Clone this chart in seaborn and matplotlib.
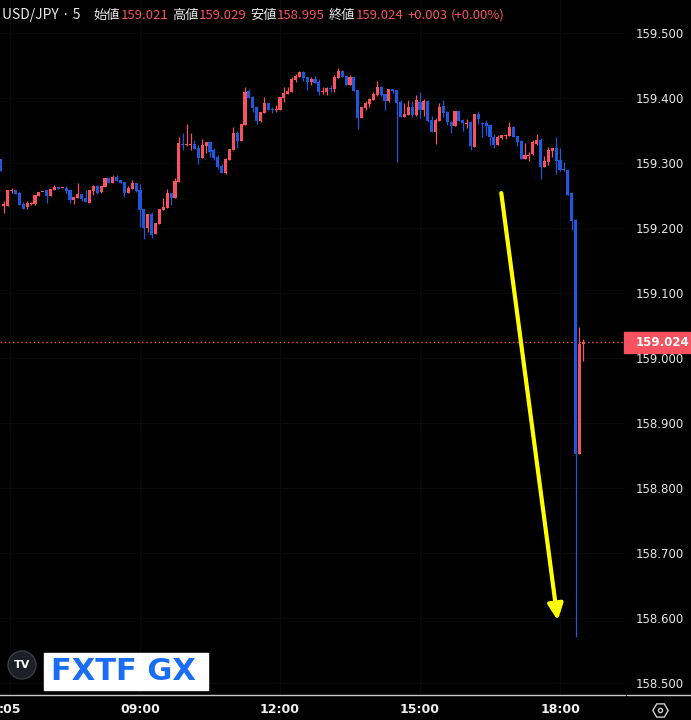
#!/usr/bin/env python3
"""
USD/JPY 5-minute candles with the sharp drop after 18:00.
"""

import matplotlib
matplotlib.use('Agg')
import numpy as np
import pandas as pd
import matplotlib.pyplot as plt
import seaborn as sns
from matplotlib.patches import Rectangle, Circle
from matplotlib.lines import Line2D

# 5-minute bars from 06:00 to 18:30
opens = [
    159.306, 159.234, 159.234, 159.257, 159.258, 159.254, 159.237, 159.232, 159.237, 159.237,
    159.249, 159.255, 159.258, 159.249, 159.258, 159.263, 159.261, 159.262, 159.258, 159.243,
    159.246, 159.252, 159.246, 159.238, 159.257, 159.265, 159.255, 159.263, 159.277, 159.269,
    159.278, 159.274, 159.271, 159.254, 159.260, 159.269, 159.258, 159.229, 159.200, 159.222,
    159.191, 159.206, 159.228, 159.231, 159.254, 159.246, 159.271, 159.329, 159.328, 159.328,
    159.329, 159.323, 159.308, 159.326, 159.332, 159.320, 159.309, 159.295, 159.285, 159.305,
    159.320, 159.346, 159.334, 159.358, 159.411, 159.402, 159.386, 159.365, 159.377, 159.392,
    159.383, 159.382, 159.382, 159.400, 159.406, 159.409, 159.428, 159.432, 159.440, 159.432,
    159.425, 159.429, 159.425, 159.409, 159.409, 159.415, 159.414, 159.431, 159.442, 159.434,
    159.420, 159.432, 159.412, 159.369, 159.385, 159.391, 159.397, 159.405, 159.417, 159.406,
    159.395, 159.414, 159.412, 159.394, 159.371, 159.374, 159.386, 159.374, 159.394, 159.382,
    159.395, 159.366, 159.348, 159.365, 159.388, 159.378, 159.363, 159.357, 159.380, 159.366,
    159.360, 159.363, 159.325, 159.375, 159.362, 159.362, 159.358, 159.340, 159.328, 159.338,
    159.342, 159.342, 159.355, 159.342, 159.334, 159.306, 159.311, 159.314, 159.329, 159.335,
    159.294, 159.302, 159.318, 159.323, 159.305, 159.291, 159.289, 159.254, 159.212, 158.852,
    159.021]
highs = [
    159.306, 159.242, 159.258, 159.262, 159.258, 159.255, 159.240, 159.242, 159.240, 159.251,
    159.255, 159.256, 159.258, 159.260, 159.266, 159.263, 159.262, 159.265, 159.258, 159.248,
    159.269, 159.252, 159.258, 159.258, 159.266, 159.266, 159.265, 159.277, 159.278, 159.282,
    159.282, 159.274, 159.271, 159.265, 159.274, 159.269, 159.268, 159.229, 159.222, 159.225,
    159.208, 159.229, 159.246, 159.260, 159.254, 159.277, 159.340, 159.346, 159.360, 159.346,
    159.335, 159.328, 159.337, 159.332, 159.332, 159.323, 159.312, 159.298, 159.308, 159.322,
    159.355, 159.349, 159.360, 159.417, 159.414, 159.403, 159.388, 159.378, 159.402, 159.392,
    159.386, 159.389, 159.402, 159.417, 159.417, 159.432, 159.437, 159.442, 159.442, 159.432,
    159.432, 159.434, 159.429, 159.417, 159.417, 159.420, 159.435, 159.446, 159.443, 159.434,
    159.435, 159.432, 159.412, 159.386, 159.395, 159.400, 159.409, 159.426, 159.418, 159.406,
    159.414, 159.414, 159.412, 159.397, 159.392, 159.397, 159.395, 159.405, 159.409, 159.398,
    159.397, 159.372, 159.369, 159.392, 159.397, 159.380, 159.365, 159.380, 159.380, 159.368,
    159.368, 159.365, 159.375, 159.380, 159.363, 159.366, 159.360, 159.345, 159.343, 159.343,
    159.345, 159.363, 159.357, 159.342, 159.335, 159.331, 159.317, 159.335, 159.345, 159.338,
    159.311, 159.325, 159.323, 159.340, 159.323, 159.302, 159.291, 159.255, 159.214, 159.048,
    159.029]
lows = [
    159.288, 159.223, 159.234, 159.254, 159.252, 159.235, 159.229, 159.229, 159.235, 159.235,
    159.249, 159.255, 159.238, 159.249, 159.258, 159.260, 159.261, 159.254, 159.238, 159.237,
    159.246, 159.242, 159.240, 159.238, 159.251, 159.252, 159.254, 159.263, 159.269, 159.269,
    159.272, 159.269, 159.248, 159.254, 159.260, 159.255, 159.202, 159.183, 159.194, 159.185,
    159.191, 159.206, 159.228, 159.231, 159.235, 159.246, 159.271, 159.320, 159.326, 159.320,
    159.322, 159.298, 159.308, 159.315, 159.309, 159.305, 159.291, 159.285, 159.283, 159.305,
    159.320, 159.323, 159.334, 159.358, 159.400, 159.378, 159.360, 159.363, 159.377, 159.382,
    159.377, 159.378, 159.382, 159.394, 159.406, 159.409, 159.425, 159.432, 159.426, 159.412,
    159.420, 159.423, 159.405, 159.406, 159.405, 159.409, 159.409, 159.431, 159.432, 159.420,
    159.420, 159.411, 159.352, 159.369, 159.382, 159.386, 159.397, 159.403, 159.403, 159.382,
    159.394, 159.408, 159.302, 159.371, 159.371, 159.374, 159.371, 159.372, 159.369, 159.372,
    159.363, 159.348, 159.329, 159.365, 159.371, 159.358, 159.346, 159.357, 159.365, 159.349,
    159.354, 159.320, 159.325, 159.360, 159.340, 159.343, 159.328, 159.323, 159.328, 159.337,
    159.337, 159.342, 159.340, 159.326, 159.306, 159.306, 159.303, 159.312, 159.328, 159.275,
    159.294, 159.297, 159.309, 159.283, 159.288, 159.288, 159.251, 159.197, 158.571, 158.852,
    158.995]
closes = [
    159.288, 159.237, 159.258, 159.258, 159.252, 159.235, 159.229, 159.238, 159.238, 159.251,
    159.255, 159.256, 159.249, 159.260, 159.263, 159.260, 159.262, 159.257, 159.243, 159.248,
    159.252, 159.245, 159.240, 159.258, 159.265, 159.254, 159.265, 159.277, 159.269, 159.278,
    159.272, 159.269, 159.254, 159.262, 159.269, 159.257, 159.228, 159.200, 159.222, 159.189,
    159.208, 159.229, 159.232, 159.254, 159.246, 159.272, 159.331, 159.328, 159.329, 159.329,
    159.322, 159.308, 159.328, 159.332, 159.317, 159.308, 159.294, 159.285, 159.306, 159.322,
    159.346, 159.334, 159.360, 159.409, 159.400, 159.385, 159.365, 159.378, 159.392, 159.382,
    159.382, 159.383, 159.402, 159.408, 159.411, 159.429, 159.434, 159.440, 159.431, 159.425,
    159.429, 159.423, 159.409, 159.411, 159.415, 159.414, 159.432, 159.442, 159.432, 159.420,
    159.432, 159.411, 159.369, 159.386, 159.392, 159.398, 159.406, 159.417, 159.405, 159.395,
    159.414, 159.411, 159.392, 159.371, 159.375, 159.386, 159.374, 159.397, 159.382, 159.395,
    159.365, 159.348, 159.366, 159.386, 159.377, 159.363, 159.357, 159.380, 159.365, 159.362,
    159.362, 159.326, 159.375, 159.368, 159.360, 159.357, 159.340, 159.328, 159.340, 159.343,
    159.343, 159.355, 159.340, 159.332, 159.306, 159.312, 159.312, 159.332, 159.335, 159.294,
    159.303, 159.320, 159.323, 159.303, 159.289, 159.289, 159.251, 159.211, 158.852, 159.021,
    159.024]

time_ticks = [2.6, 36, 72, 108, 144]
time_labels = [':05', '09:00', '12:00', '15:00', '18:00']
price_ticks = [159.5, 159.4, 159.3, 159.2, 159.1, 159.0, 158.9, 158.8, 158.7, 158.6, 158.5]

header = [
    ('USD/JPY · 5', 'w'), ('始値', 'w'), ('159.021', 'r'), ('高値', 'w'), ('159.029', 'r'),
    ('安値', 'w'), ('158.995', 'r'), ('終値', 'w'), ('159.024', 'r'), ('+0.003', 'r'),
    ('(+0.00%)', 'r'),
]
header_x = [2, 93, 121, 172, 199, 250, 277, 329, 356, 408, 451]

UP = '#f7525f'
DOWN = '#2157d9'
W, H = 691, 720

df = pd.DataFrame({'open': opens, 'high': highs, 'low': lows, 'close': closes})
df['idx'] = np.arange(len(df))
df['color'] = np.where(df['close'] >= df['open'], UP, DOWN)
df['bottom'] = df[['open', 'close']].min(axis=1)
df['body'] = (df['close'] - df['open']).abs().clip(lower=0.0014)

sns.set_style('dark', {'axes.facecolor': 'black', 'figure.facecolor': 'black',
                       'grid.color': '#0a0a0a'})
plt.rcParams['font.family'] = ['DejaVu Sans']

fig = plt.figure(figsize=(W / 100, H / 100), dpi=100)
ax = fig.add_axes([0, 25 / H, 625 / W, 695 / H])

ax.grid(True, color='#0a0a0a', linewidth=1, zorder=0)
ax.vlines(df['idx'], df['low'], df['high'], colors=df['color'], linewidth=0.9, zorder=2)
ax.bar(df['idx'], df['body'], bottom=df['bottom'], width=0.82, color=df['color'],
       linewidth=0, zorder=3)

# last price line
ax.axhline(closes[-1], color=UP, linewidth=1, linestyle=(0, (1, 2)), zorder=1)

# yellow arrow
ax.annotate('', xy=(143.5, 158.592), xytext=(128.8, 159.258),
            arrowprops=dict(arrowstyle='-|>,head_width=0.45,head_length=0.95',
                            color='#ffff00', lw=3), zorder=4)

ax.set_xlim(0, 625 / 3.889)
ax.set_ylim(158.4815, 159.5508)
ax.set_xticks(time_ticks)
ax.set_xticklabels(time_labels)
ax.set_yticks(price_ticks)
ax.set_yticklabels([f'{p:.3f}' for p in price_ticks])
ax.yaxis.tick_right()
ax.tick_params(axis='y', length=0, pad=8, labelsize=8.5, labelcolor='#e6e6e6')
ax.tick_params(axis='x', length=0, pad=6, labelsize=9, labelcolor='#f0f0f0')
for lab in ax.get_xticklabels():
    lab.set_fontweight('bold')
for s in ['top', 'left', 'right']:
    ax.spines[s].set_visible(False)
ax.spines['bottom'].set_color('#c8c8c8')
ax.spines['bottom'].set_linewidth(1)
fig.add_artist(Line2D([627 / W, 1], [25 / H, 25 / H], transform=fig.transFigure,
                      color='#c8c8c8', linewidth=1))

# last price tag
fig.patches.append(Rectangle((624 / W, 1 - 353 / H), 66 / W, 21 / H,
                             transform=fig.transFigure, color=UP, zorder=5))
fig.text(636 / W, 1 - 342.5 / H, f'{closes[-1]:.3f}', color='white', fontsize=8.5,
         weight='bold', ha='left', va='center', zorder=6)

# header
cjk = ['Noto Sans CJK JP', 'DejaVu Sans']
for i, ((txt, c), x) in enumerate(zip(header, header_x)):
    fig.text(x / W, 1 - 15.5 / H, txt, color='#e8e8e8' if c == 'w' else UP,
             fontsize=10 if i == 0 else 9.5, family=cjk, ha='left', va='center')

# logos
inch = fig.dpi_scale_trans
fig.patches.append(Circle((0.22, 0.55), 0.14, transform=inch, facecolor='#1c1f26',
                          edgecolor='#3a3d45', linewidth=1, zorder=5))
fig.text(0.22, 0.55, 'TV', transform=inch, color='white', fontsize=8, weight='bold',
         ha='center', va='center', zorder=6)
fig.patches.append(Rectangle((0.44, 0.30), 1.64, 0.37, transform=inch,
                             facecolor='white', zorder=5))
fig.text(1.23, 0.485, 'FXTF GX', transform=inch, color='#1a6ef5', fontsize=22,
         weight='bold', ha='center', va='center', zorder=6)

# settings icon
fig.add_artist(Line2D([6.60], [0.10], transform=inch, marker='H', markersize=11,
                      markerfacecolor='none', markeredgecolor='#cfcfcf', markeredgewidth=1))
fig.add_artist(Line2D([6.60], [0.10], transform=inch, marker='o', markersize=3,
                      markerfacecolor='none', markeredgecolor='#cfcfcf', markeredgewidth=1))

plt.savefig('out.png', dpi=100, facecolor='black')
plt.close()
